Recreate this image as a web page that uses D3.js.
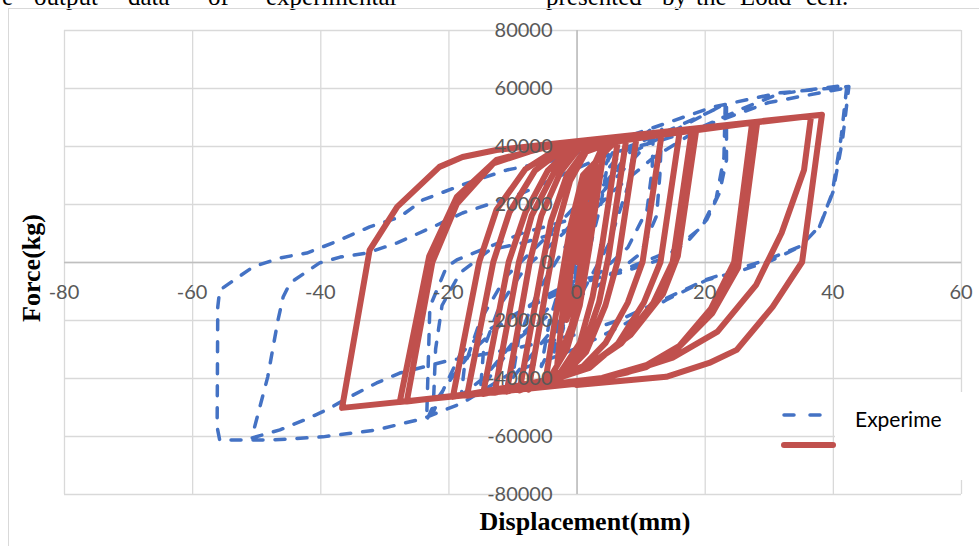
<!DOCTYPE html>
<html>
<head>
<meta charset="utf-8">
<script src="https://cdn.jsdelivr.net/npm/d3@7"></script>
<style>
  body { margin: 0; background: #fff; }
  svg { display: block; }
</style>
</head>
<body>
<div id="chart"></div>
<script>
// axis ticks
const xTicks = [-80, -60, -40, -20, 0, 20, 40, 60]
const yTicks = [-80000, -60000, -40000, -20000, 0, 20000, 40000, 60000, 80000]

// caption words above the chart (cut by the page edge)
const captionWords = ["e", "output", "data", "of", "experimental", "presented", "by", "the", "Load", "cell."]
const captionX = [2, 34, 128, 208, 266, 546, 662, 696, 740, 806]

// experimental loops, [displacement mm, force kg]
const experimental = [
  [0,0],
  [1.0,14000],[0.4,2000],[-1.0,-14000],[-0.4,-2000],[1.0,12000],
  [2.2,24000],[1.0,6000],[-0.3,-8000],[-2.2,-24000],[-1.0,-6000],[0.3,8000],
  [3.5,31000],[2.2,12000],[0.5,-6000],[-3.5,-31000],[-2.2,-12000],[-0.5,6000],
  [5.0,36000],[3.8,20000],[1.5,0],[-1.0,-16000],[-5.5,-36000],[-4.2,-20000],[-2.0,-4000],[1.0,14000],
  [9.0,40000],[8.0,26000],[5.0,6000],[0.5,-12000],[-4.0,-24000],[-10.0,-40000],[-9.0,-26000],[-6.0,-10000],[-1.0,8000],[4.0,24000],
  [13.3,46000],[13.0,30000],[12.5,16000],[10.0,3000],[5.0,-6000],[-3.0,-16000],[-10.0,-28000],[-14.5,-40000],[-18.0,-46000],
  [-17.5,-36000],[-15.0,-20000],[-11.0,-5000],[-5.0,8000],[1.0,22000],[6.0,35000],
  [12.0,46500],[11.8,32000],[11.0,18000],[8.0,5000],[3.0,-5000],[-4.0,-15000],[-9.0,-26000],[-13.0,-38000],[-15.0,-44000],
  [-14.5,-30000],[-12.0,-15000],[-8.0,-2000],[-2.0,10000],[4.0,26000],[8.0,37000],
  [13.3,43100],[23.4,54800],[23.4,35200],[22.3,23800],[20.3,14500],[17.1,6500],[12.9,700],[6.7,-3800],[0.0,-6200],
  [-6.0,-13000],[-12.0,-22000],[-16.0,-30000],[-19.5,-40000],[-22.0,-48000],[-23.4,-54500],
  [-22.9,-15500],[-20.3,-1700],[-18.7,700],[-8.4,10000],[0.5,15500],[3.0,28000],[5.6,37600],
  [14.0,45000],[23.2,54200],[23.0,36000],[21.8,22000],[19.5,12000],[15.0,4000],[8.0,-2000],[0.0,-8000],
  [-8.0,-16000],[-15.0,-25000],[-18.2,-32000],[-21.0,-45000],[-22.4,-52000],
  [-22.0,-30000],[-21.0,-15000],[-18.2,-3800],[-13.6,4100],[-8.4,6600],[0.0,12000],[6.0,25000],[12.0,36000],
  [20.0,47000],[26.0,53000],[31.6,58000],
  [42.2,61000],[41.3,43100],[39.9,23800],[37.9,12100],[34.8,5200],[30.6,700],[25.9,-2800],[20.3,-6200],[14.0,-13100],
  [6.7,-22400],[0.5,-29300],[-4.7,-33800],[-10.0,-38000],[-17.8,-48600],[-24.0,-54000],[-31.2,-57900],[-39.6,-60300],
  [-47.9,-61400],[-55.7,-61400],
  [-56.1,-56900],[-56.0,-15500],[-55.7,-9700],[-50.5,-1700],[-46.3,1400],[-42.1,3100],[-38.0,6600],[-32.3,12100],
  [-27.6,15500],[-24.0,21400],[-17.1,27200],[-10.9,31700],[-3.1,35200],[10.9,45500],[21.2,53400],[31.6,58300],
  [42.5,60500],[41.5,42000],[40.0,24000],[38.0,12500],[35.0,5500],[30.0,1000],[20.3,-6000],[14.0,-12500],[6.7,-20000],
  [0.0,-25000],[-10.0,-30000],[-20.0,-34000],[-27.6,-38300],[-31.2,-41700],[-35.4,-46500],[-39.0,-51000],[-42.5,-54500],
  [-46.3,-57900],[-50.7,-60700],
  [-48.2,-39600],[-46.6,-20000],[-45.8,-12100],[-44.7,-7200],[-40.1,-300],[-36.9,1700],[-32.7,3100],[-28.0,6600],
  [-22.4,12100],[-17.8,16900],[-8.4,23800],[-0.6,31700],[5.6,37600],[13.4,42100],[21.2,47900],[30.0,55000],[42.0,60000]
]

// analytical loops, [displacement mm, force kg]
const analytical = [
  [0,0],
  [1.6,20000],[1.0,5000],[0.2,-8000],[-1.6,-20000],[-1.0,-5000],[-0.2,8000],
  [3.0,34000],[2.0,12000],[0.8,-8000],[-0.8,-22000],[-3.0,-35000],[-2.0,-13000],[-0.8,8000],[0.8,24000],
  [4.5,42000],[2.0,5000],[0.5,-15000],[-1.5,-30000],[-5.0,-43000],[-2.5,-8000],[-1.0,12000],[1.0,30000],
  [6.5,42600],[4.0,6000],[2.5,-12000],[0.5,-28000],[-2.5,-38000],[-7.5,-44000],[-4.5,-6000],[-3.0,12000],[-1.0,28000],[1.5,38000],
  [7.8,43000],[5.0,2000],[3.5,-14000],[1.0,-30000],[-2.0,-38500],[-8.9,-44300],[-5.5,-3000],[-4.0,14000],[-1.5,30000],[1.5,39000],
  [9.4,43400],[6.5,1000],[4.5,-15000],[1.5,-31000],[-2.0,-39000],[-10.9,-44700],[-7.3,0],[-5.5,16000],[-2.5,31000],[0.5,39500],
  [13.3,44400],[10.3,0],[8.0,-14000],[4.5,-28000],[1.0,-36000],[-4.0,-40500],[-12.8,-45100],[-9.0,0],[-7.0,16000],[-3.5,31000],[0.0,39500],
  [16.1,45100],[13.1,0],[10.5,-14000],[6.5,-28000],[2.0,-36500],[-4.0,-40800],[-14.6,-45500],[-10.6,0],[-8.0,17000],[-4.5,31500],[-1.0,39000],
  [18.7,45800],[15.8,2000],[13.5,-11000],[8.5,-25000],[3.0,-34000],[-3.0,-40000],[-17.1,-46100],[-13.0,0],[-10.5,17000],[-6.5,31500],[-2.0,39000],
  [18.0,45600],[15.0,0],[12.0,-14000],[7.0,-28000],[1.0,-37000],[-5.0,-41000],[-19.3,-46500],[-15.2,0],[-12.5,18000],[-8.0,32000],[-3.0,39000],
  [27.4,48000],[24.6,0],[21.0,-16000],[16.0,-29000],[11.0,-35500],[4.0,-40000],[-26.5,-48100],[-22.5,0],[-18.7,20000],[-13.0,34000],[-5.0,39800],
  [28.2,48200],[25.2,-2000],[21.2,-17600],[16.0,-29300],[10.9,-36200],[3.1,-40700],[-27.6,-48300],[-23.0,2000],[-18.7,22400],[-12.5,35200],[-3.1,40500],
  [36.6,50300],[35.5,31700],[32.0,10000],[28.0,-8000],[22.0,-24000],[15.0,-33000],[8.0,-38000],[0.0,-42000],[-36.6,-50300],
  [-32.3,4100],[-28.0,19000],[-21.4,32800],[-17.8,36200],[-12.5,38600],[-5.8,40300],
  [38.3,50800],[35.2,0],[30.6,-15500],[25.0,-30300],[20.7,-34800],[14.0,-39600],[0.0,-42400]
]

const width = 979,
    height = 546

const svg = d3.select("#chart")
  .append("svg")
    .attr("width", width)
    .attr("height", height)

// caption line cut at the top
svg.append("g")
  .selectAll("text")
  .data(captionWords)
  .join("text")
    .attr("x", (d, i) => captionX[i])
    .attr("y", 5)
    .style("font-family", "'Liberation Serif', serif")
    .style("font-size", "25px")
    .text(d => d)

// chart frame
svg.append("rect")
  .attr("x", 8.5).attr("y", 8.5)
  .attr("width", width + 10).attr("height", height + 10)
  .attr("fill", "none")
  .attr("stroke", "#d9d9d9")

const x = d3.scaleLinear().domain([-80, 60]).range([64, 961])
const y = d3.scaleLinear().domain([-80000, 80000]).range([494, 30])

// gridlines
svg.append("g")
  .selectAll("line")
  .data(xTicks)
  .join("line")
    .attr("x1", d => x(d) + 0.5).attr("x2", d => x(d) + 0.5)
    .attr("y1", y(80000)).attr("y2", y(-80000))
    .attr("stroke", "#d9d9d9")
    .attr("stroke-width", 1.3)

svg.append("g")
  .selectAll("line")
  .data(yTicks)
  .join("line")
    .attr("x1", x(-80)).attr("x2", x(60))
    .attr("y1", d => y(d) + 0.5).attr("y2", d => y(d) + 0.5)
    .attr("stroke", "#d9d9d9")
    .attr("stroke-width", 1.3)

// axes through the origin
svg.append("line")
  .attr("x1", x(-80)).attr("x2", x(60))
  .attr("y1", y(0) + 0.5).attr("y2", y(0) + 0.5)
  .attr("stroke", "#bfbfbf").attr("stroke-width", 1.6)
svg.append("line")
  .attr("x1", x(0) + 0.5).attr("x2", x(0) + 0.5)
  .attr("y1", y(80000)).attr("y2", y(-80000))
  .attr("stroke", "#bfbfbf").attr("stroke-width", 1.6)

const line = d3.line()
  .x(d => x(d[0]))
  .y(d => y(d[1]))

svg.append("path")
  .datum(experimental)
  .attr("d", line)
  .attr("fill", "none")
  .attr("stroke", "#4472c4")
  .attr("stroke-width", 3.5)
  .attr("stroke-dasharray", "10,12")
  .attr("stroke-linecap", "round")
  .attr("stroke-linejoin", "round")

svg.append("path")
  .datum(analytical)
  .attr("d", line)
  .attr("fill", "none")
  .attr("stroke", "#c0504d")
  .attr("stroke-width", 6)
  .attr("stroke-linecap", "round")
  .attr("stroke-linejoin", "round")

// tick labels drawn over the series
const tickFont = "Lato, 'Open Sans', sans-serif"
svg.append("g")
  .selectAll("text")
  .data(yTicks)
  .join("text")
    .attr("x", x(0) - 24)
    .attr("y", d => y(d))
    .attr("dy", "0.36em")
    .attr("text-anchor", "end")
    .style("font-family", tickFont)
    .style("font-size", "20px")
    .attr("fill", "#595959")
    .text(d => d)

svg.append("g")
  .selectAll("text")
  .data(xTicks)
  .join("text")
    .attr("x", d => x(d))
    .attr("y", y(0) + 30)
    .attr("dy", "0.36em")
    .attr("text-anchor", "middle")
    .style("font-family", tickFont)
    .style("font-size", "20px")
    .attr("fill", "#595959")
    .text(d => d)

// axis titles
svg.append("text")
  .attr("x", 585).attr("y", 530)
  .attr("text-anchor", "middle")
  .style("font-family", "'Liberation Serif', serif")
  .style("font-weight", "bold")
  .style("font-size", "26px")
  .text("Displacement(mm)")

svg.append("text")
  .attr("transform", "translate(40,268) rotate(-90)")
  .attr("text-anchor", "middle")
  .style("font-family", "'Liberation Serif', serif")
  .style("font-weight", "bold")
  .style("font-size", "26px")
  .text("Force(kg)")

// legend, partly covered on the right
svg.append("rect")
  .attr("x", 835).attr("y", 392)
  .attr("width", 150).attr("height", 88)
  .attr("fill", "#fff")

svg.append("line")
  .attr("x1", 784).attr("x2", 830)
  .attr("y1", 415).attr("y2", 415)
  .attr("stroke", "#4472c4")
  .attr("stroke-width", 3.5)
  .attr("stroke-dasharray", "10,16")
  .attr("stroke-linecap", "round")

svg.append("line")
  .attr("x1", 784).attr("x2", 833)
  .attr("y1", 445).attr("y2", 445)
  .attr("stroke", "#c0504d")
  .attr("stroke-width", 6)
  .attr("stroke-linecap", "round")

svg.append("text")
  .attr("x", 855).attr("y", 427)
  .style("font-family", tickFont)
  .style("font-size", "21px")
  .attr("fill", "#000")
  .text("Experime")
</script>
</body>
</html>
